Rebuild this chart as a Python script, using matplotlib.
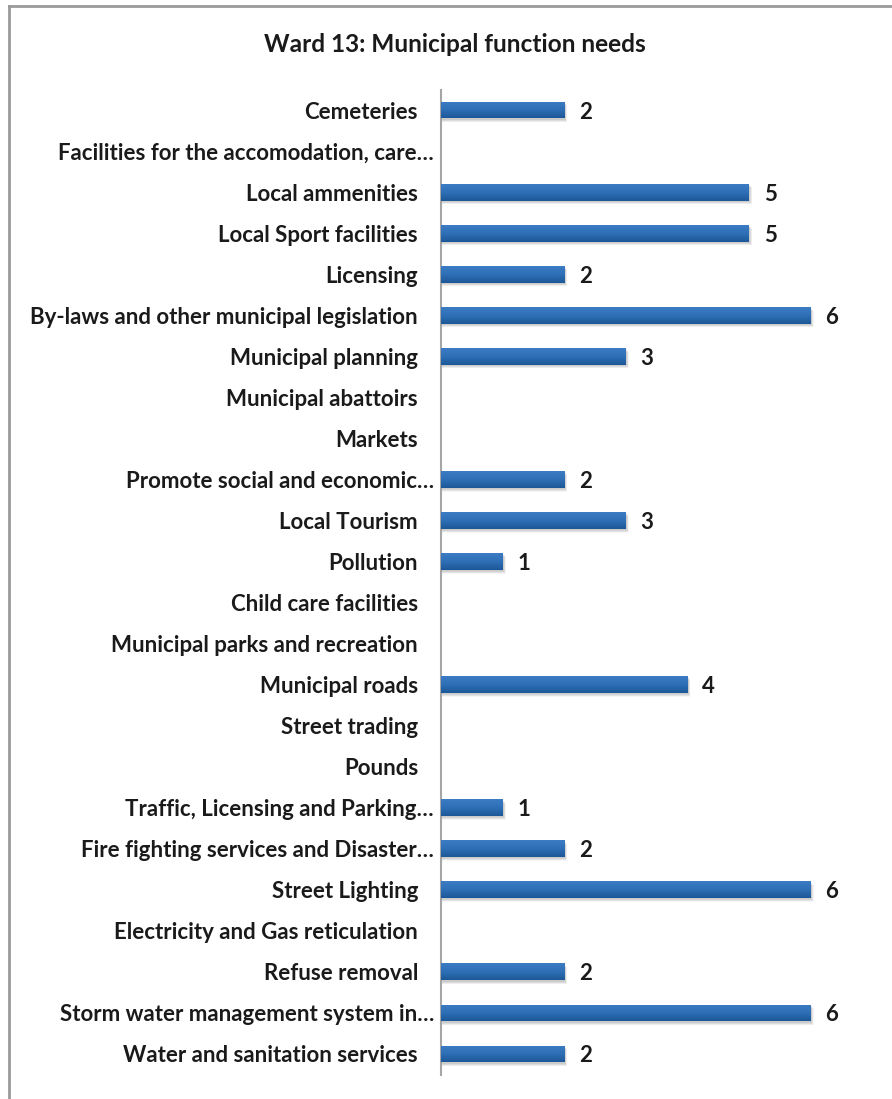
import matplotlib
matplotlib.use("Agg")
import matplotlib.pyplot as plt
import numpy as np
from matplotlib.colors import LinearSegmentedColormap
from matplotlib.lines import Line2D
import matplotlib.transforms as mtransforms

plt.rcParams['font.family'] = ['Lato', 'DejaVu Sans']

title = "Ward 13: Municipal function needs"
categories = [
    "Cemeteries",
    "Facilities for the accomodation, care\u2026",
    "Local ammenities",
    "Local Sport facilities",
    "Licensing",
    "By-laws and other municipal legislation",
    "Municipal planning",
    "Municipal abattoirs",
    "Markets",
    "Promote social and economic\u2026",
    "Local Tourism",
    "Pollution",
    "Child care facilities",
    "Municipal parks and recreation",
    "Municipal roads",
    "Street trading",
    "Pounds",
    "Traffic, Licensing and Parking\u2026",
    "Fire fighting services and Disaster\u2026",
    "Street Lighting",
    "Electricity and Gas reticulation",
    "Refuse removal",
    "Storm water management system in\u2026",
    "Water and sanitation services",
]
values = [2, None, 5, 5, 2, 6, 3, None, None, 2, 3, 1, None, None, 4,
          None, None, 1, 2, 6, None, 2, 6, 2]

W, H = 892, 1099
fig = plt.figure(figsize=(W / 100, H / 100), dpi=100)
fig.patch.set_facecolor("white")

# outer frame (top and left edges visible)
fig.add_artist(Line2D([8.5 / W, 1.0], [1 - 5.5 / H, 1 - 5.5 / H], color="#9a9a9a", lw=2))
fig.add_artist(Line2D([8.5 / W, 8.5 / W], [0, 1 - 5.5 / H], color="#9a9a9a", lw=2))

n = len(categories)
x0, x1 = 441, 872      # axis pixel range for 0..7
ytop, ybot = 89.5, 1074.5
ax = fig.add_axes([x0 / W, 1 - ybot / H, (x1 - x0) / W, (ybot - ytop) / H])

ypos = np.arange(n)
vals = np.array([v if v is not None else 0 for v in values], dtype=float)
has = vals > 0
bar_h = 0.41

# soft drop shadow under each bar
for k in range(6):
    off = 0.03 + k * 0.012
    ax.barh(ypos[has] + off, vals[has] + 0.02 + k * 0.006, height=bar_h, left=0.0,
            color="#000000", alpha=0.035, zorder=1, linewidth=0)

bars = ax.barh(ypos, vals, height=bar_h, color="#2e6db4", zorder=2, linewidth=0)

# vertical gradient fill inside each bar
cmap = LinearSegmentedColormap.from_list("blue", ["#3b7cc4", "#2f6fb6", "#1c5898"])
grad = np.linspace(0, 1, 64).reshape(-1, 1)
for b, v in zip(bars, vals):
    if v <= 0:
        continue
    yb, hb = b.get_y(), b.get_height()
    im = ax.imshow(grad, cmap=cmap, aspect="auto",
                   extent=[0, v, yb + hb, yb], origin="upper", zorder=3,
                   interpolation="bilinear")
    im.set_clip_path(b)

ax.set_xlim(0, 7)
ax.set_ylim(n - 0.5, -0.5)

for sp in ["top", "right", "bottom"]:
    ax.spines[sp].set_visible(False)
ax.spines["left"].set_color("#a6a6a6")
ax.spines["left"].set_linewidth(1.5)
ax.set_xticks([])
ax.set_yticks([])

fs = 16
dy = -2 * 72 / 100
for i, (cat, v) in enumerate(zip(categories, values)):
    shift = 16 if cat.endswith("\u2026") else 0
    tr = mtransforms.offset_copy(ax.transData, fig=fig, x=(-23 + shift) * 72 / 100, y=dy, units="points")
    ax.text(0, i, cat, transform=tr, ha="right", va="center", fontsize=fs,
            color="#1a1a1a", fontweight="bold")
    if v is not None:
        ax.text(v, i, f"{v}", ha="left", va="center", fontsize=fs,
                color="#1a1a1a", fontweight="bold",
                transform=mtransforms.offset_copy(ax.transData, fig=fig, x=15 * 72 / 100, y=dy, units="points"))

fig.text(455 / W, 1 - 44 / H, title, ha="center", va="center", fontsize=17.6,
         color="#1a1a1a", fontweight="bold")

fig.savefig("out.png", dpi=100, facecolor="white")
